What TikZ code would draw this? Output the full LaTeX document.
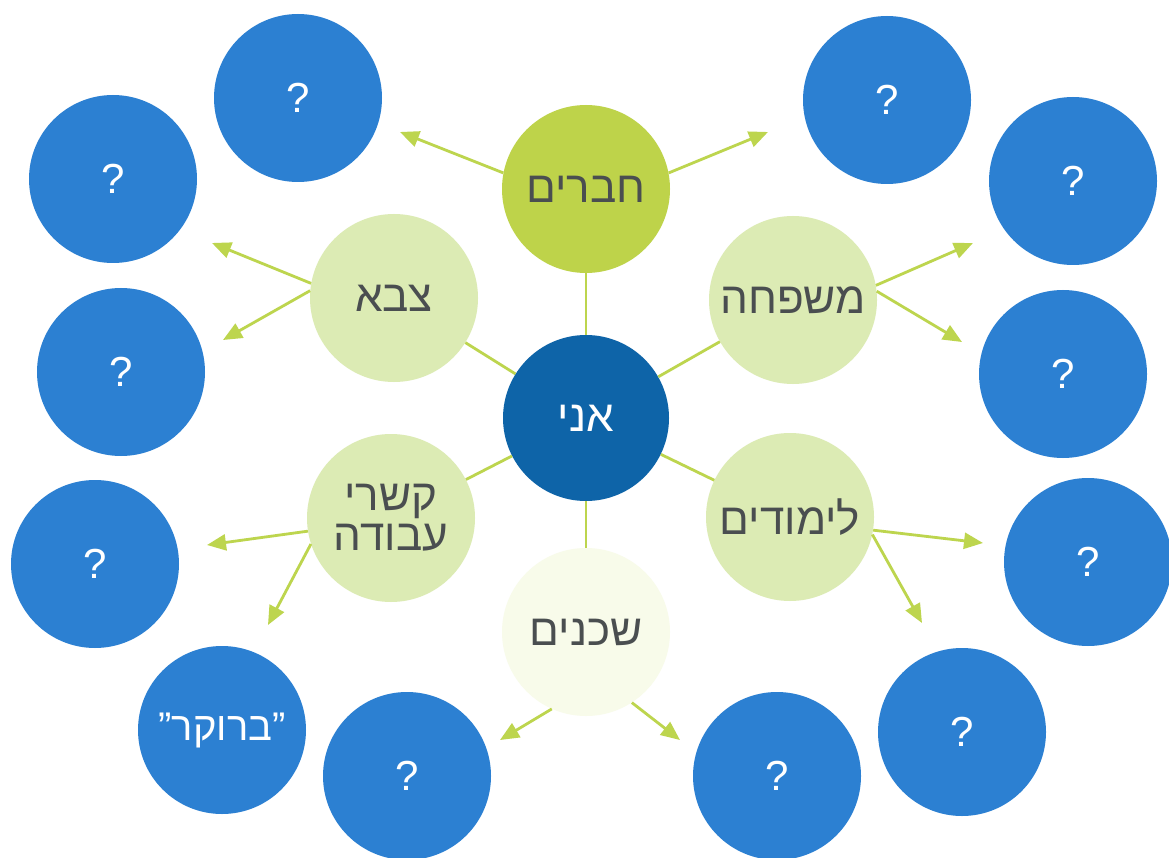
\documentclass[tikz,border=0pt]{standalone}
\usepackage{fontspec}
\setmainfont{Liberation Sans}
\newfontfamily\heb[Script=Hebrew]{Liberation Sans}
\TeXXeTstate=1
\usetikzlibrary{arrows.meta}
\definecolor{blueC}{HTML}{2C80D2}
\definecolor{aniC}{HTML}{0E64A8}
\definecolor{limeC}{HTML}{BED34A}
\definecolor{lightC}{HTML}{DCEBB4}
\definecolor{paleC}{HTML}{F8FBEA}
\definecolor{lineC}{HTML}{BDD54E}
\definecolor{txtC}{HTML}{4A4E50}
\begin{document}
\begin{tikzpicture}[x=1pt,y=-1pt,
 circ/.style={circle, inner sep=0pt, minimum size=168pt},
 qnode/.style={circ, fill=blueC, text=white, font=\fontsize{42}{44}\selectfont},
 hnode/.style={circ, text=txtC, font=\heb\fontsize{44}{40}\selectfont, align=center},
 conn/.style={draw=lineC, line width=2.8pt},
 arr/.style={conn, -{Triangle[length=19pt,width=16pt]}}]
\fill[white] (0,0) rectangle (1169,858);
\useasboundingbox (0,0) rectangle (1169,858);
% outer circles
\node[qnode] (q1) at (298,98) {?};
\node[qnode] (q2) at (113,179) {?};
\node[qnode] (q3) at (121,372) {?};
\node[qnode] (q4) at (95,564) {?};
\node[qnode, font=\heb\fontsize{40}{40}\selectfont] (q5) at (222,730) {\beginR ”ברוקר”\endR};
\node[qnode] (q6) at (407,776) {?};
\node[qnode] (q7) at (777,776) {?};
\node[qnode] (q8) at (962,732) {?};
\node[qnode] (q9) at (1088,562) {?};
\node[qnode] (q10) at (1063,374) {?};
\node[qnode] (q11) at (1073,181) {?};
\node[qnode] (q12) at (887,100) {?};
% inner circles
\node[hnode, fill=limeC] (chav) at (586,189) {\beginR חברים\endR};
\node[hnode, fill=lightC] (mish) at (793,300) {\beginR משפחה\endR};
\node[hnode, fill=lightC] (tsava) at (394,298) {\beginR צבא\endR};
\node[hnode, fill=lightC] (kish) at (391,518) {\beginR קשרי\endR\\\beginR עבודה\endR};
\node[hnode, fill=lightC] (lim) at (790,517) {\beginR לימודים\endR};
\node[hnode, fill=paleC] (shch) at (586,632) {\beginR שכנים\endR};
\node[hnode, fill=aniC, text=white, minimum size=166pt] (ani) at (586,418) {\beginR אני\endR};
% spokes
\draw[conn] (ani) -- (chav);
\draw[conn] (ani) -- (mish);
\draw[conn] (ani) -- (tsava);
\draw[conn] (ani) -- (kish);
\draw[conn] (ani) -- (lim);
\draw[conn] (ani) -- (shch);
% arrow tips
\coordinate (t1) at (400,132);
\coordinate (t2) at (768,132);
\coordinate (t3) at (212,243);
\coordinate (t4) at (223,340);
\coordinate (t5) at (973,243);
\coordinate (t6) at (962,342);
\coordinate (t7) at (207,545);
\coordinate (t8) at (268,625);
\coordinate (t9) at (983,543);
\coordinate (t10) at (922,623);
\coordinate (t11) at (500,740);
\coordinate (t12) at (680,740);
\draw[arr] (chav.169) -- (t1);
\draw[arr] (chav.11) -- (t2);
\draw[arr] (tsava.170) -- (t3);
\draw[arr] (tsava.175) -- (t4);
\draw[arr] (mish.10) -- (t5);
\draw[arr] (mish.6) -- (t6);
\draw[arr] (kish.189) -- (t7);
\draw[arr] (kish.198) -- (t8);
\draw[arr] (lim.-9) -- (t9);
\draw[arr] (lim.-12) -- (t10);
\draw[arr] (shch.246) -- (t11);
\draw[arr] (shch.303) -- (t12);
\end{tikzpicture}
\end{document}
